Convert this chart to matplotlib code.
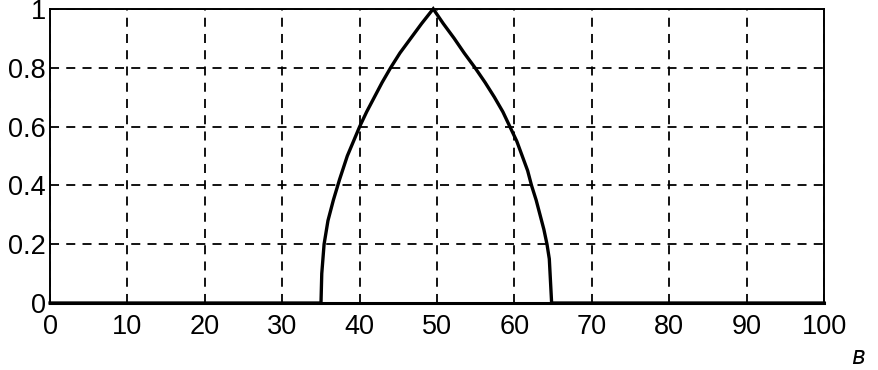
import matplotlib
matplotlib.use('Agg')
import matplotlib.pyplot as plt

# membership curve
x_pts = [0, 35.0, 35.1, 35.4, 35.9, 36.6, 37.4, 38.4, 39.2, 40.0, 40.9, 41.9,
         42.9, 44.0, 45.2, 46.6, 48.0, 49.5,
         50.8, 52.2, 53.5, 54.9, 56.2, 57.4, 58.5, 59.4, 60.3, 61.0, 61.7,
         62.2, 62.8, 63.3, 63.8, 64.2, 64.5, 64.6, 64.8, 100]
y_pts = [0, 0.0, 0.1, 0.2, 0.28, 0.35, 0.42, 0.5, 0.55, 0.6, 0.65, 0.7,
         0.75, 0.8, 0.85, 0.9, 0.95, 1.0,
         0.95, 0.9, 0.85, 0.8, 0.75, 0.7, 0.65, 0.6, 0.55, 0.5, 0.45,
         0.4, 0.35, 0.3, 0.25, 0.2, 0.15, 0.1, 0.0, 0]

x_ticks = [0, 10, 20, 30, 40, 50, 60, 70, 80, 90, 100]
y_ticks = [0, 0.2, 0.4, 0.6, 0.8, 1]
y_labels = ['0', '0.2', '0.4', '0.6', '0.8', '1']

plt.rcParams['font.family'] = ['Liberation Sans', 'DejaVu Sans']

fig = plt.figure(figsize=(8.79, 3.7), dpi=100)
ax = fig.add_axes([0.057, 0.181, 0.8805, 0.795])

ax.plot(x_pts, y_pts, color='black', linewidth=2.4, solid_joinstyle='miter',
        clip_on=False, zorder=3)

ax.set_xlim(0, 100)
ax.set_ylim(0, 1)
ax.set_xticks(x_ticks)
ax.set_yticks(y_ticks)
ax.set_yticklabels(y_labels)
ax.tick_params(length=0, labelsize=19.5)
ax.tick_params(axis='x', pad=8)
ax.tick_params(axis='y', pad=3)

ax.grid(True, color='black', linestyle=(0, (5, 4)), linewidth=1.3)
for s in ax.spines.values():
    s.set_linewidth(1.4)
ax.spines['bottom'].set_linewidth(2.2)

fig.text(0.976, 0.035, 'в', fontsize=17, style='italic', family='DejaVu Sans',
         ha='center', va='center')

fig.savefig('out.png', dpi=100)
plt.close(fig)
